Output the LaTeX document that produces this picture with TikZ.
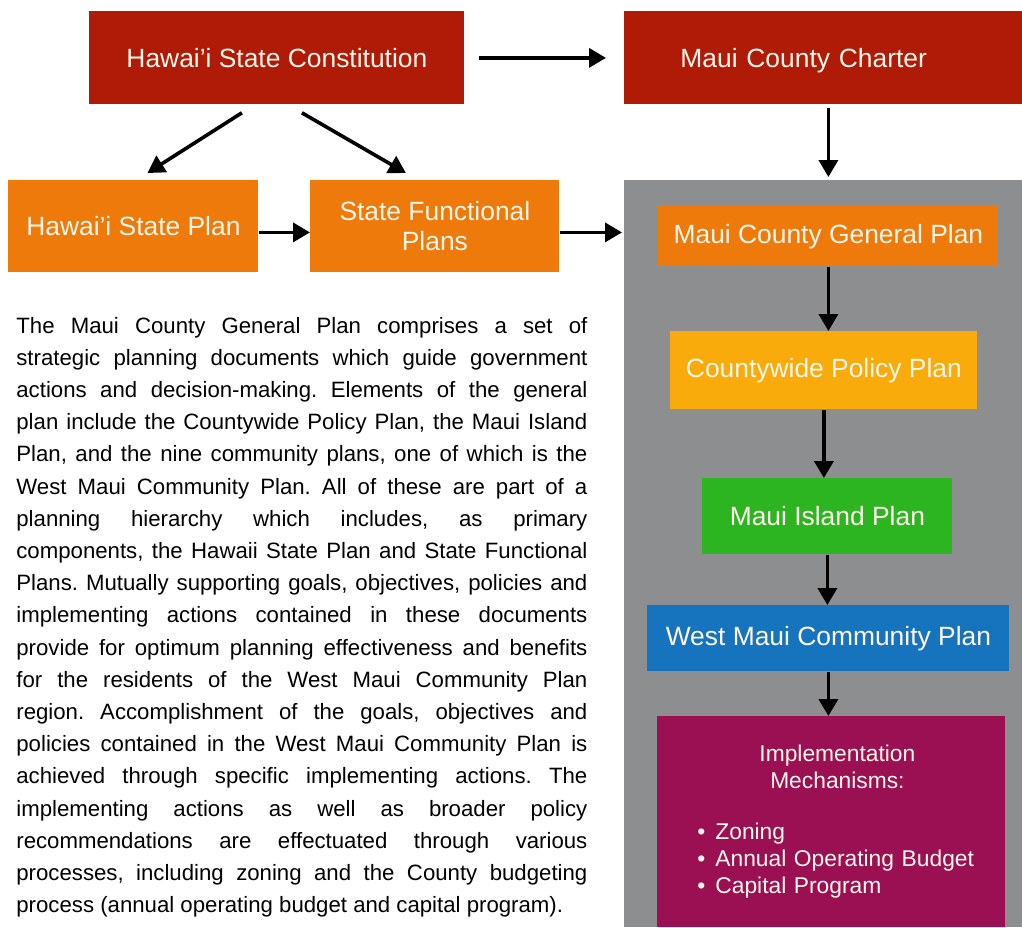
\documentclass[tikz,border=0pt]{standalone}
\usepackage{fontspec}
\setmainfont{Liberation Sans}
\usetikzlibrary{arrows.meta,calc}
\definecolor{statered}{HTML}{B01B07}
\definecolor{planorange}{HTML}{EF7A0C}
\definecolor{policyyellow}{HTML}{F8AB0B}
\definecolor{islandgreen}{HTML}{2DB521}
\definecolor{westblue}{HTML}{1674BF}
\definecolor{implpurple}{HTML}{9A1052}
\definecolor{panelgray}{HTML}{8D8E90}
\definecolor{labelwhite}{HTML}{FFF7EC}
\begin{document}
\begin{tikzpicture}[x=0.5pt,y=-0.5pt,
  plan/.style={inner sep=0,anchor=north west,text=labelwhite,align=center,font=\fontsize{13.2}{15}\selectfont},
  arr/.style={line width=1.8pt,-{Triangle[width=9.5pt,length=8.5pt]}}
  ]
  \useasboundingbox (0,0) rectangle (1022,927);
  %
  % Panel
  %
  \node(panel)[fill=panelgray,inner sep=0,anchor=north west,minimum width=199pt,minimum height=373.5pt] at (624,180) {};
  %
  % Nodes
  %
  \node(const)     [plan,fill=statered,minimum width=187.5pt,minimum height=46.5pt,text depth=0pt] at (89,11) {Hawai'i State Constitution};
  \node(charter)   [plan,fill=statered,minimum width=199pt,minimum height=46.5pt,text width=143pt,align=left,text depth=0pt] at (624,11) {Maui County Charter};
  \node(stateplan) [plan,fill=planorange,minimum width=125pt,minimum height=46pt] at (8,180) {Hawai'i State Plan};
  \node(functional)[plan,fill=planorange,minimum width=124.5pt,minimum height=46pt] at (310,180) {State Functional\\Plans};
  \node(gen)       [plan,fill=planorange,minimum width=170pt,minimum height=30pt] at (658,206) {Maui County General Plan};
  \node(cw)        [plan,fill=policyyellow,minimum width=153.5pt,minimum height=39pt] at (670,331) {Countywide Policy Plan};
  \node(island)    [plan,fill=islandgreen,minimum width=125pt,minimum height=38pt] at (702,478) {Maui Island Plan};
  \node(west)      [plan,fill=westblue,minimum width=181pt,minimum height=33pt] at (647,605) {West Maui Community Plan};
  \node(impl)      [plan,fill=implpurple,minimum width=174pt,minimum height=105.5pt,text width=174pt,align=left,font=\fontsize{11.4}{13.5}\selectfont] at (657,716)
    {{\centering\hspace*{6pt}Implementation\\\hspace*{6pt}Mechanisms:\par}\vspace{12pt}\raggedright\leftskip=20pt
     \makebox[9pt][l]{\textbullet}Zoning\\\makebox[9pt][l]{\textbullet}Annual Operating Budget\\\makebox[9pt][l]{\textbullet}Capital Program\par};
  %
  % Text
  %
  \node(body)[inner sep=0,anchor=base west,text width=285.5pt,align=justify,font=\fontsize{11.1}{16.1}\selectfont] at (16,333)
    {\frenchspacing\hyphenpenalty=10000\exhyphenpenalty=10000
     The Maui County General Plan comprises a set of\linebreak
     strategic planning documents which guide government\linebreak
     actions and decision-making. Elements of the general\linebreak
     plan include the Countywide Policy Plan, the Maui Island\linebreak
     Plan, and the nine community plans, one of which is the\linebreak
     West Maui Community Plan. All of these are part of a\linebreak
     planning hierarchy which includes, as primary\linebreak
     components, the Hawaii State Plan and State Functional\linebreak
     Plans. Mutually supporting goals, objectives, policies and\linebreak
     implementing actions contained in these documents\linebreak
     provide for optimum planning effectiveness and benefits\linebreak
     for the residents of the West Maui Community Plan\linebreak
     region. Accomplishment of the goals, objectives and\linebreak
     policies contained in the West Maui Community Plan is\linebreak
     achieved through specific implementing actions. The\linebreak
     implementing actions as well as broader policy\linebreak
     recommendations are effectuated through various\linebreak
     processes, including zoning and the County budgeting\linebreak
     process (annual operating budget and capital program).};
  %
  % Arrows
  %
  % const -> charter
  \draw[arr] ([xshift=7pt]const.east) -- ([xshift=-9pt]charter.west);
  % const -> stateplan
  \draw[arr] ($(const.south)+(-35,8)$) -- ($(stateplan.north)+(14,-7)$);
  % const -> functional
  \draw[arr] ($(const.south)+(25,8)$) -- ($(functional.north)+(-29,-7)$);
  % charter -> panel
  \draw[arr,shorten <=1.5pt,shorten >=1.5pt] (gen.north |- charter.south) -- (gen.north |- panel.north);
  % stateplan -> functional
  \draw[arr] ([yshift=-3pt]stateplan.east) -- ([yshift=-3pt]functional.west);
  % functional -> panel
  \draw[arr,shorten >=1pt] ([yshift=-3pt]functional.east) -- ([yshift=-3pt]functional.east -| panel.west);
  % gen -> cw -> island -> west -> impl
  \draw[arr] (gen.south) -- (gen.south |- cw.north);
  \draw[arr] (cw.south) -- (cw.south |- island.north);
  \draw[arr] (island.south) -- (island.south |- west.north);
  \draw[arr] (west.south) -- (west.south |- impl.north);
\end{tikzpicture}
\end{document}
